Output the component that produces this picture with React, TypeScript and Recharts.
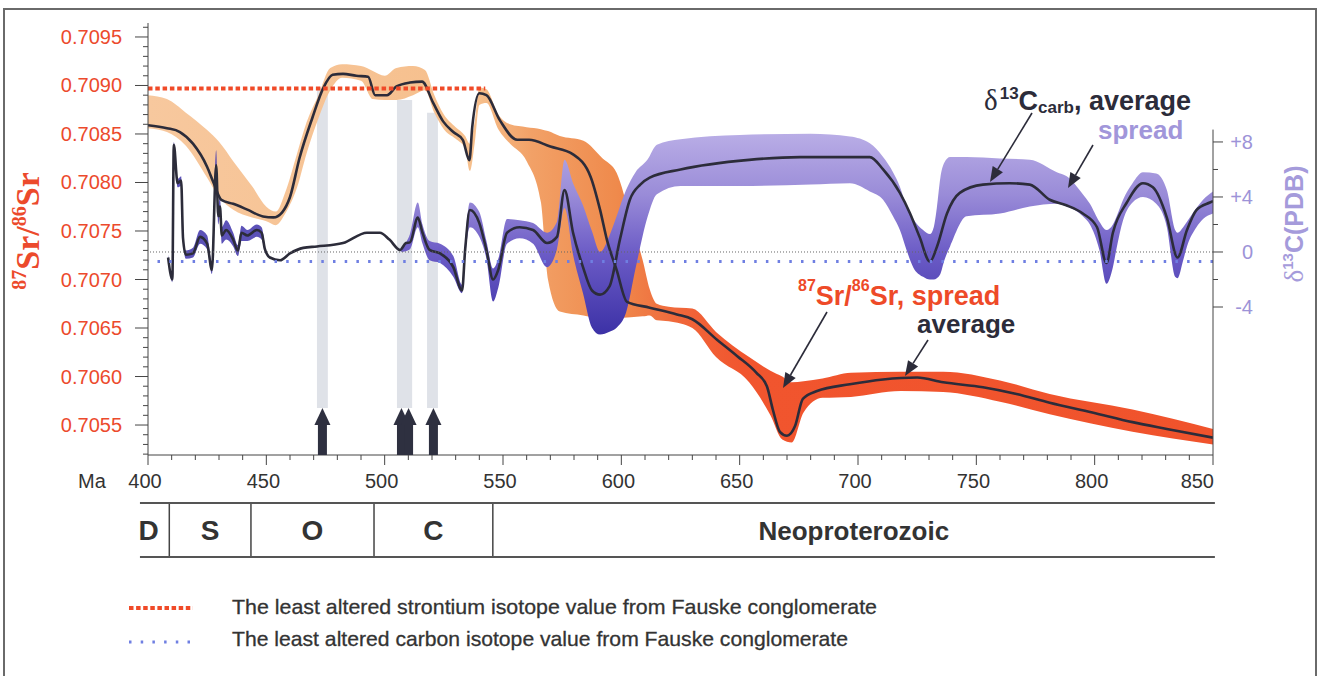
import React from 'react';
import {
  ComposedChart,
  Area,
  Line,
  Scatter,
  XAxis,
  YAxis,
  ReferenceLine,
  ReferenceArea,
} from 'recharts';

// 87Sr/86Sr average curve (age in Ma)
const srAge = [400, 408, 413.5, 419, 425, 427.5, 431, 436, 442, 448.6, 453, 456.6, 460, 464, 469.5, 474, 478, 482.4, 488, 493, 496, 501, 505, 510.7, 515.8, 520.5, 524.7, 529, 533, 535.8, 537, 540, 543, 548.7, 556, 561, 570, 579.6, 587, 591, 594, 598, 602.4, 612, 623.5, 630, 640.4, 649, 657, 661.5, 664, 667, 670, 673.4, 676.7, 682.7, 696.6, 710.6, 725, 736, 752.8, 767, 781, 799, 816, 830.5, 850];
const srAvg = [0.70859, 0.70856, 0.70852, 0.7084, 0.70816, 0.70801, 0.70782, 0.70778, 0.70772, 0.70765, 0.70764, 0.70769, 0.70785, 0.70825, 0.70867, 0.70897, 0.70911, 0.70912, 0.7091, 0.70909, 0.7089, 0.7089, 0.70899, 0.70903, 0.70904, 0.70882, 0.70863, 0.70852, 0.70844, 0.70823, 0.70857, 0.70892, 0.7089, 0.70864, 0.70844, 0.70844, 0.70837, 0.70829, 0.70806, 0.70772, 0.7074, 0.7071, 0.70677, 0.70671, 0.70664, 0.70659, 0.70638, 0.70621, 0.70604, 0.7059, 0.70566, 0.70543, 0.70539, 0.70549, 0.70577, 0.70585, 0.70592, 0.70597, 0.70599, 0.70594, 0.70589, 0.70582, 0.70573, 0.70563, 0.70553, 0.70546, 0.70537];

// 87Sr/86Sr spread
const srBandAge = [400, 408, 416, 425, 430, 436, 444, 450, 454, 458, 463, 467, 472, 477, 482, 490, 495, 500, 505, 512, 517, 521, 525, 530, 534, 536, 538, 540, 543, 548, 553, 560, 566, 569, 574, 584, 592, 598, 604, 609, 612, 615, 620, 630, 640, 654, 663, 668, 672, 677, 685, 697, 718, 736, 760, 781, 816, 850];
const srLow = [0.70856, 0.70852, 0.70838, 0.70805, 0.70785, 0.70772, 0.70764, 0.7076, 0.70756, 0.70768, 0.70795, 0.7083, 0.70866, 0.70895, 0.70908, 0.70905, 0.70886, 0.70885, 0.70885, 0.7089, 0.70895, 0.70872, 0.70855, 0.70845, 0.70835, 0.70812, 0.7084, 0.7088, 0.70882, 0.70855, 0.7084, 0.70822, 0.7078, 0.707, 0.70667, 0.70663, 0.7066, 0.7066, 0.70661, 0.70662, 0.70663, 0.70658, 0.70657, 0.7065, 0.7062, 0.70594, 0.7056, 0.70535, 0.70532, 0.70563, 0.70578, 0.70579, 0.70585, 0.70584, 0.70574, 0.70561, 0.70543, 0.7053];
const srHigh = [0.7089, 0.70886, 0.70872, 0.70854, 0.70842, 0.70822, 0.70796, 0.70775, 0.7077, 0.7079, 0.7083, 0.70862, 0.7089, 0.70918, 0.70922, 0.7092, 0.70915, 0.7091, 0.70918, 0.7092, 0.70916, 0.7089, 0.7087, 0.70857, 0.70848, 0.7084, 0.70862, 0.70898, 0.70896, 0.7087, 0.7086, 0.70857, 0.70855, 0.70853, 0.70848, 0.70843, 0.70825, 0.7081, 0.70762, 0.7072, 0.7069, 0.70675, 0.70672, 0.7067, 0.70646, 0.7062, 0.70606, 0.706, 0.70594, 0.70595, 0.70598, 0.70604, 0.70605, 0.70605, 0.70596, 0.70582, 0.70566, 0.70546];

// d13C carb average curve
const cAge = [408.5, 410.3, 410.9, 412.5, 414, 414.8, 416, 419, 422, 425, 427, 428.8, 429.7, 430.4, 431.2, 433, 436, 438, 439.5, 442, 446, 448, 449.4, 451.5, 455.8, 460, 465.6, 471.4, 482.4, 492.5, 498, 502, 506.5, 509, 510.7, 514, 516, 519, 523.4, 529, 532.7, 534, 536, 540, 543, 545.8, 548, 551.7, 557, 562.7, 568.6, 572.8, 576, 579.6, 583.8, 587.6, 591, 595, 599.4, 603.6, 608, 612, 625, 654, 675.5, 705, 710.6, 717.7, 722, 726, 730.4, 733.4, 737.6, 743, 752.8, 764, 772.6, 781, 788, 795, 801, 805, 807.7, 813.6, 820.4, 824.6, 830.5, 835, 839, 843, 848.7, 850];
const cAvg = [-0.4, -2.0, 7.8, 5.0, 5.2, 1.0, -0.2, -0.1, 1.1, 0.6, -1.3, 6.3, 2.6, 3.3, 1.2, 1.6, 0.9, 0.1, 1.4, 1.2, 1.6, 1.4, 0.2, -0.4, -0.6, -0.1, 0.3, 0.4, 0.65, 1.4, 1.4, 0.9, 0.15, 0.65, 0.7, 2.5, 1.4, 0.15, -0.1, -1.1, -2.8, 0.15, 3.05, 2.1, 0.15, -2.0, -1.3, 1.4, 1.8, 1.6, 0.65, 1.1, 4.5, 1.4, -1.1, -2.8, -3.1, -2.5, 0.9, 3.8, 4.9, 5.4, 6.0, 6.7, 6.9, 6.9, 6.0, 4.3, 2.8, 1.1, -0.7, 0.4, 2.8, 4.3, 4.9, 5.0, 4.9, 3.8, 3.4, 2.8, 1.8, -0.8, 1.4, 3.6, 5.0, 4.7, 2.5, -0.4, 1.6, 3.05, 3.6, 3.7];

// d13C spread, Silurian-Ordovician part
const cEarlyAge = [408.5, 410.3, 410.9, 412.5, 414, 414.8, 416, 419, 422, 425, 427, 428.8, 429.7, 430.4, 431.2, 433, 436, 438, 439.5, 442, 446, 448, 449.4];
const cEarlyLow = [-0.6, -2.2, 7.4, 4.7, 4.8, 0.8, -0.5, -0.4, 0.6, 0.2, -1.6, 5.5, 2.0, 2.6, 0.6, 0.9, 0.4, -0.3, 0.8, 0.8, 1.1, 0.9, -0.1];
const cEarlyHigh = [-0.2, -1.8, 8.0, 5.3, 5.5, 1.3, 0.1, 0.3, 1.6, 1.2, -0.8, 7.4, 3.4, 4.0, 1.8, 2.3, 1.4, 0.5, 1.9, 1.6, 2.0, 1.8, 0.4];

// d13C spread, Cambrian - Neoproterozoic part
const cBandAge = [507, 510.7, 514, 516, 519, 523.4, 529, 532.7, 534, 536, 540, 543, 545.8, 548, 551.7, 557, 562.7, 568.6, 572.8, 576, 579.6, 583.8, 587.6, 591, 595, 598, 602, 606, 611, 615, 625, 650, 680, 696.6, 705, 710.6, 714.8, 717.7, 720.5, 723.3, 727.5, 730.4, 732, 733.3, 734.8, 736.5, 738.9, 745.9, 760, 772.6, 784, 788.2, 795, 798, 802, 805, 807.7, 809.3, 812, 816, 820.4, 826, 830.5, 834, 835, 837.4, 839, 843, 845.8, 850];
const cLow = [0.0, 0.2, 1.8, 0.6, -0.6, -0.8, -1.8, -3.0, -0.4, 1.8, 1.1, -0.5, -3.6, -2.6, 0.6, 1.0, 0.6, -1.1, 0.2, 3.2, -0.2, -3.0, -5.5, -6.0, -5.8, -5.5, -4.4, -1.2, 2.5, 4.2, 4.8, 4.8, 4.9, 5.0, 4.4, 3.8, 2.6, 1.6, 0.15, -1.1, -1.8, -2.0, -2.0, -1.9, -1.6, -0.6, 0.4, 2.6, 2.8, 3.3, 3.5, 3.3, 2.6, 2.0, 0.15, -2.3, -1.1, 0.3, 2.3, 3.6, 4.0, 3.5, 1.8, -1.8, -1.9, -0.6, 0.4, 1.8, 2.4, 2.8];
const cHigh = [0.3, 1.3, 3.6, 2.0, 0.8, 0.6, -0.3, -2.4, 0.8, 3.6, 2.9, 0.8, -1.2, -0.5, 2.4, 2.3, 2.1, 1.4, 2.2, 6.7, 5.0, 3.4, 1.5, 0.0, 1.2, 2.6, 4.5, 5.8, 6.7, 7.8, 8.2, 8.5, 8.6, 8.4, 7.9, 6.9, 5.8, 4.75, 3.3, 2.4, 1.6, 1.3, 1.8, 3.2, 5.4, 6.5, 6.9, 6.9, 6.8, 6.7, 5.8, 5.5, 4.2, 3.5, 2.2, 1.6, 2.0, 2.6, 3.8, 5.0, 5.8, 5.7, 4.5, 1.6, 1.4, 1.8, 2.2, 3.2, 3.8, 4.4];

// axes
const ageTicks = [400, 450, 500, 550, 600, 650, 700, 750, 800, 850];
const srTicks = [0.7055, 0.706, 0.7065, 0.707, 0.7075, 0.708, 0.7085, 0.709, 0.7095];
const cTicks = [-4, 0, 4, 8];

// geologic periods
const periods = ['D', 'S', 'O', 'C', 'Neoproterozoic'];
const periodStart = [396.6, 409, 443.5, 495.5, 545.7];
const periodEnd = [409, 443.5, 495.5, 545.7, 850.8];

// sampled intervals (grey bars) and arrows
const sampleFrom = [471.4, 505.2, 517.9];
const sampleTo = [476, 511.6, 522.5];
const sampleTop = [0.70898, 0.70885, 0.70872];
const sampleBottom = 0.705675;
const arrowAges = [473.7, 507.1, 510.1, 520.6];

// Fauske conglomerate values
const srFauske = 0.70897;
const srFauskeEnd = 542.5;
const cFauske = -0.7;

const SR_DOMAIN: [number, number] = [0.705191, 0.709644];
const C_DOMAIN: [number, number] = [-14.76, 16.65];

const srLine = srAge.map((age, i) => ({ age, sr: srAvg[i] }));
const srBand = srBandAge.map((age, i) => ({ age, range: [srLow[i], srHigh[i]] }));
const cLine = cAge.map((age, i) => ({ age, c: cAvg[i] }));
const cEarly = cEarlyAge.map((age, i) => ({ age, range: [cEarlyLow[i], cEarlyHigh[i]] }));
const cBand = cBandAge.map((age, i) => ({ age, range: [cLow[i], cHigh[i]] }));
const samples = sampleFrom.map((from, i) => [
  { age: from, range: [sampleBottom, sampleTop[i]] },
  { age: sampleTo[i], range: [sampleBottom, sampleTop[i]] },
]);
const arrows = arrowAges.map((age) => ({ age, sr: SR_DOMAIN[0] }));
const scaleRows = [
  { age: 400, v: 0.5 },
  { age: 850, v: 0.5 },
];

const ageAll = Array.from({ length: 46 }, (_, i) => 400 + i * 10);
const srAll = Array.from({ length: 45 }, (_, i) => Number((0.7052 + i * 0.0001).toFixed(4)));
const cAll = [-4, -2, 0, 2, 4, 6, 8];

const AXIS = '#454545';
const DARK = '#2c2c3a';
const SR_RED = '#ec4a2c';
const C_PURPLE = '#9d93d8';

const AgeTick = (props: any) => {
  const { x, y, payload } = props;
  const v = payload.value;
  const major = ageTicks.includes(v);
  const last = v === ageTicks[ageTicks.length - 1];
  return (
    <g>
      <line x1={x} x2={x} y1={y} y2={y + (major ? 10 : 5)} stroke={AXIS} />
      {major && (
        <text x={last ? x + 1 : x - 3} y={y + 33} textAnchor={last ? 'end' : 'middle'} fontSize={20} fill="#333">
          {v}
        </text>
      )}
    </g>
  );
};

const SrTick = (props: any) => {
  const { x, y, payload } = props;
  const v = payload.value;
  const major = srTicks.some((t) => Math.abs(t - v) < 1e-8);
  return (
    <g>
      <line x1={x - (major ? 13 : 5)} x2={x} y1={y} y2={y} stroke={AXIS} />
      {major && (
        <text x={x - 26} y={y + 7} textAnchor="end" fontSize={20} fill={SR_RED}>
          {v.toFixed(4)}
        </text>
      )}
    </g>
  );
};

const CTick = (props: any) => {
  const { x, y, payload } = props;
  const v = payload.value;
  const major = cTicks.includes(v);
  return (
    <g>
      <line x1={x} x2={x + (major ? 10 : 5)} y1={y} y2={y} stroke={AXIS} />
      {major && (
        <text x={x + 40} y={y + 7} textAnchor="end" fontSize={20} fill={C_PURPLE}>
          {v > 0 ? `+${v}` : `${v}`}
        </text>
      )}
    </g>
  );
};

const ArrowShape = (props: any) => {
  const { cx, cy } = props;
  return (
    <g fill="#2e3040">
      <rect x={cx - 4.5} y={cy - 30} width={9} height={30} />
      <polygon points={`${cx - 8},${cy - 30} ${cx + 8},${cy - 30} ${cx},${cy - 47}`} />
    </g>
  );
};

const Pointer = ({ x1, y1, x2, y2 }: { x1: number; y1: number; x2: number; y2: number }) => {
  const a = Math.atan2(y2 - y1, x2 - x1);
  const len = 15;
  const w = 6;
  const bx = x2 - len * Math.cos(a);
  const by = y2 - len * Math.sin(a);
  const px = -Math.sin(a) * w;
  const py = Math.cos(a) * w;
  return (
    <g>
      <line x1={x1} y1={y1} x2={bx} y2={by} stroke={DARK} strokeWidth={1.6} />
      <polygon points={`${x2},${y2} ${bx + px},${by + py} ${bx - px},${by - py}`} fill={DARK} />
    </g>
  );
};

const PeriodLabel = (name: string) => (props: any) => {
  const vb = props.viewBox;
  const narrow = vb.width < 40;
  return (
    <text
      x={vb.x + vb.width / 2 + (narrow ? -6 : 0)}
      y={vb.y + vb.height / 2 + 10}
      textAnchor="middle"
      fontSize={name.length > 1 ? 26 : 28}
      fontWeight="bold"
      fill="#333"
    >
      {name}
    </text>
  );
};

export default function App() {
  return (
    <div
      style={{
        position: 'absolute',
        left: 0,
        top: 0,
        width: 1318,
        height: 676,
        overflow: 'hidden',
        background: '#fff',
        fontFamily: '"Liberation Sans", Arial, sans-serif',
      }}
    >
      <div
        style={{
          position: 'absolute',
          left: 3,
          top: 8,
          width: 1310,
          height: 680,
          border: '2px solid #6a6a6a',
        }}
      />

      <div style={{ position: 'absolute', left: 0, top: 0 }}>
        <ComposedChart width={1318} height={500} margin={{ top: 23, right: 0, bottom: 0, left: 0 }}>
          <defs>
            <linearGradient id="srGrad" x1="0" y1="0" x2="1" y2="0">
              <stop offset="0" stopColor="#f7c89e" />
              <stop offset="0.31" stopColor="#f6bf8c" />
              <stop offset="0.36" stopColor="#f2a167" />
              <stop offset="0.44" stopColor="#ef8a4c" />
              <stop offset="0.5" stopColor="#f0663a" />
              <stop offset="0.56" stopColor="#f1552e" />
              <stop offset="1" stopColor="#f0532c" />
            </linearGradient>
            <linearGradient id="cGrad" x1="0" y1="0" x2="0" y2="1">
              <stop offset="0" stopColor="#b9ade6" />
              <stop offset="0.3" stopColor="#9a8cd8" />
              <stop offset="0.6" stopColor="#6b5bc6" />
              <stop offset="1" stopColor="#3c31a6" />
            </linearGradient>
          </defs>
          <XAxis
            type="number"
            dataKey="age"
            domain={[400, 850]}
            allowDataOverflow
            ticks={ageAll}
            interval={0}
            height={45}
            tickSize={0}
            tickMargin={0}
            tick={<AgeTick />}
            axisLine={{ stroke: AXIS }}
          />
          <YAxis
            yAxisId="sr"
            orientation="left"
            width={148}
            domain={SR_DOMAIN}
            allowDataOverflow
            ticks={srAll}
            interval={0}
            tickSize={0}
            tickMargin={0}
            tick={<SrTick />}
            axisLine={{ stroke: AXIS }}
          />
          <YAxis
            yAxisId="c"
            orientation="right"
            width={105}
            domain={C_DOMAIN}
            allowDataOverflow
            ticks={cAll}
            interval={0}
            tickSize={0}
            tickMargin={0}
            tick={<CTick />}
            axisLine={false}
          />

          {samples.map((rows, i) => (
            <Area
              key={`s${i}`}
              yAxisId="sr"
              data={rows}
              dataKey="range"
              type="linear"
              fill="#dde0e7"
              fillOpacity={0.95}
              stroke="none"
              isAnimationActive={false}
            />
          ))}

          <Area
            yAxisId="sr"
            data={srBand}
            dataKey="range"
            type="monotone"
            fill="url(#srGrad)"
            fillOpacity={1}
            stroke="none"
            isAnimationActive={false}
          />
          <Area
            yAxisId="c"
            data={cEarly}
            dataKey="range"
            type="monotone"
            fill="#4a3fb0"
            fillOpacity={0.9}
            stroke="none"
            isAnimationActive={false}
          />
          <Area
            yAxisId="c"
            data={cBand}
            dataKey="range"
            type="monotone"
            fill="url(#cGrad)"
            fillOpacity={1}
            stroke="none"
            isAnimationActive={false}
          />
          <Line
            yAxisId="sr"
            data={srLine}
            dataKey="sr"
            type="monotone"
            stroke={DARK}
            strokeWidth={2.6}
            dot={false}
            isAnimationActive={false}
          />
          <Line
            yAxisId="c"
            data={cLine}
            dataKey="c"
            type="monotone"
            stroke={DARK}
            strokeWidth={2.6}
            dot={false}
            isAnimationActive={false}
          />

          <ReferenceLine yAxisId="c" y={0} stroke="#666" strokeWidth={1} strokeDasharray="1 2" />
          <ReferenceLine yAxisId="c" y={cFauske} stroke="#6f7fe2" strokeWidth={3} strokeDasharray="2.5 9.2" />
          <ReferenceLine
            yAxisId="sr"
            segment={[
              { x: 400, y: srFauske },
              { x: srFauskeEnd, y: srFauske },
            ]}
            stroke="#f04a28"
            strokeWidth={4}
            strokeDasharray="4.5 2.8"
          />
          <ReferenceLine
            yAxisId="c"
            segment={[
              { x: 850, y: 8.9 },
              { x: 850, y: C_DOMAIN[0] },
            ]}
            stroke={AXIS}
            strokeWidth={1}
            ifOverflow="visible"
          />

          <Scatter yAxisId="sr" data={arrows} dataKey="sr" shape={<ArrowShape />} isAnimationActive={false} />
        </ComposedChart>
      </div>

      {/* geologic time scale */}
      <div style={{ position: 'absolute', left: 0, top: 490 }}>
        <ComposedChart
          width={1318}
          height={80}
          data={scaleRows}
          margin={{ top: 13, right: 105, bottom: 13, left: 148 }}
        >
          <XAxis type="number" dataKey="age" domain={[400, 850]} hide />
          <YAxis type="number" domain={[0, 1]} hide />
          <Line dataKey="v" stroke="none" dot={false} isAnimationActive={false} />
          {periods.map((name, i) => (
            <ReferenceArea
              key={name}
              x1={periodStart[i]}
              x2={periodEnd[i]}
              y1={0}
              y2={1}
              fill="#fff"
              fillOpacity={0}
              stroke="none"
              ifOverflow="visible"
              label={PeriodLabel(name)}
            />
          ))}
          {periodEnd.slice(0, -1).map((b) => (
            <ReferenceLine key={b} x={b} stroke="#444" strokeWidth={1.5} ifOverflow="visible" />
          ))}
          <ReferenceLine
            segment={[
              { x: periodStart[0], y: 1 },
              { x: periodEnd[periodEnd.length - 1], y: 1 },
            ]}
            stroke="#555"
            strokeWidth={2}
            ifOverflow="visible"
          />
          <ReferenceLine
            segment={[
              { x: periodStart[0], y: 0 },
              { x: periodEnd[periodEnd.length - 1], y: 0 },
            ]}
            stroke="#555"
            strokeWidth={2}
            ifOverflow="visible"
          />
        </ComposedChart>
      </div>

      {/* axis titles, annotations and legend */}
      <svg width={1318} height={676} style={{ position: 'absolute', left: 0, top: 0, pointerEvents: 'none' }}>
        <text x={78} y={488} fontSize={20} fill="#333">Ma</text>

        <text
          transform="translate(39,231) rotate(-90)"
          textAnchor="middle"
          fontFamily='"Liberation Serif", "Times New Roman", serif'
          fontWeight="bold"
          fontSize={34}
          fill={SR_RED}
        >
          <tspan fontSize={20} dy={-13}>87</tspan>
          <tspan dy={13}>Sr/</tspan>
          <tspan fontSize={20} dy={-13}>86</tspan>
          <tspan dy={13}>Sr</tspan>
        </text>

        <text transform="translate(1303,224) rotate(-90)" textAnchor="middle" fontSize={25} fontWeight="bold" fill="#a59bdb">
          <tspan fontFamily='"Liberation Serif", serif' fontWeight="normal" fontSize={27}>δ</tspan>
          <tspan fontSize={15} dy={-10}>13</tspan>
          <tspan dy={10}>C(PDB)</tspan>
        </text>

        <text x={984} y={110} fontWeight="bold" fontSize={27} fill={DARK}>
          <tspan fontFamily='"Liberation Serif", serif' fontWeight="normal" fontSize={29}>δ</tspan>
          <tspan fontSize={17} dy={-11} dx={2}>13</tspan>
          <tspan dy={11}>C</tspan>
          <tspan fontSize={17} dy={3}>carb</tspan>
          <tspan dy={-3}>, average</tspan>
        </text>
        <text x={1098} y={139} fontWeight="bold" fontSize={26} fill="#a196da">spread</text>

        <text x={798} y={305} fontWeight="bold" fontSize={27} fill="#ee4a28">
          <tspan fontSize={16} dy={-14}>87</tspan>
          <tspan dy={14}>Sr/</tspan>
          <tspan fontSize={16} dy={-14}>86</tspan>
          <tspan dy={14}>Sr, spread</tspan>
        </text>
        <text x={917} y={333} fontWeight="bold" fontSize={26} fill={DARK}>average</text>

        <Pointer x1={1032} y1={113} x2={990} y2={182} />
        <Pointer x1={1093} y1={145} x2={1068} y2={188} />
        <Pointer x1={827} y1={312} x2={783} y2={388} />
        <Pointer x1={928} y1={340} x2={905} y2={376} />

        <line x1={129} x2={193} y1={608} y2={608} stroke="#f04a28" strokeWidth={4} strokeDasharray="4.5 2.6" />
        <text
          x={232}
          y={614}
          fontSize={21}
          fill="#333"
          stroke="#333"
          strokeWidth={0.3}
          textLength={645}
          lengthAdjust="spacingAndGlyphs"
        >
          The least altered strontium isotope value from Fauske conglomerate
        </text>
        <line x1={129} x2={193} y1={642} y2={642} stroke="#6f7fe2" strokeWidth={3} strokeDasharray="2.5 9.2" />
        <text
          x={232}
          y={646}
          fontSize={21}
          fill="#333"
          stroke="#333"
          strokeWidth={0.3}
          textLength={616}
          lengthAdjust="spacingAndGlyphs"
        >
          The least altered carbon isotope value from Fauske conglomerate
        </text>
      </svg>
    </div>
  );
}
